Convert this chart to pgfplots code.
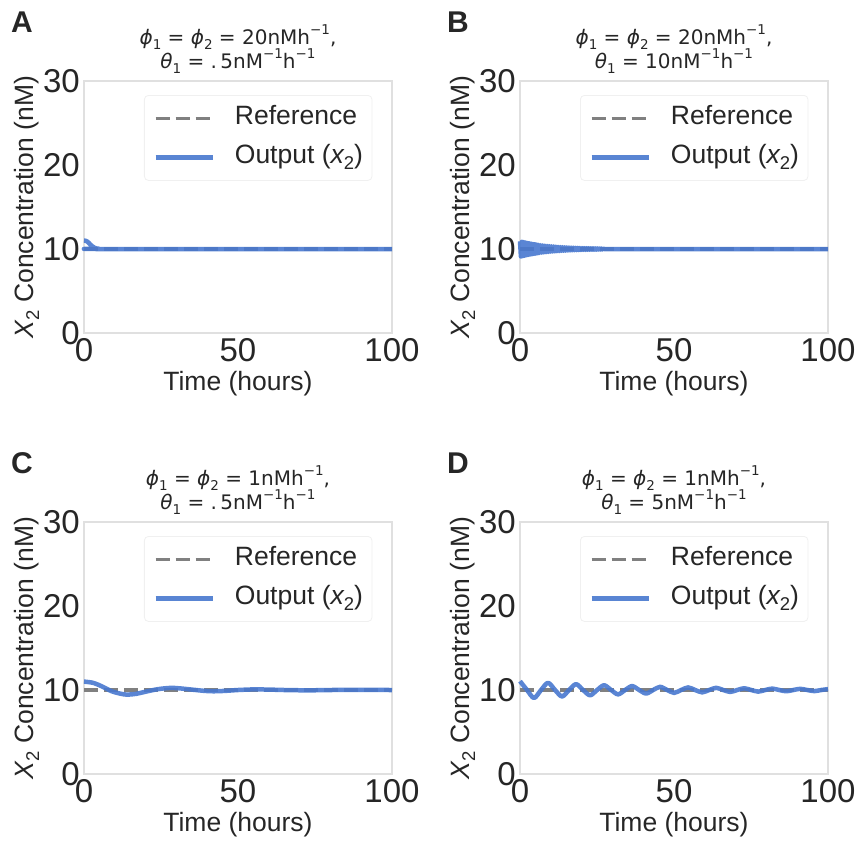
\documentclass[border=0pt]{standalone}
\usepackage{fontspec}
\setmainfont{Liberation Sans}
\newfontfamily\djv{DejaVu Sans}
\usepackage{pgfplots}
\pgfplotsset{compat=1.18}

\definecolor{txt}{HTML}{262626}
\definecolor{myblue}{HTML}{4878CF}
\definecolor{refgray}{HTML}{808080}

\newcommand{\tsub}[1]{\raisebox{-0.22em}{\fontsize{13.5bp}{13.5bp}\selectfont #1}}
\newcommand{\tsup}[1]{\raisebox{0.5em}{\fontsize{13.5bp}{13.5bp}\selectfont #1}}
\newcommand{\lsub}[1]{\raisebox{-0.22em}{\fontsize{18.5bp}{18.5bp}\selectfont #1}}
\newcommand{\phiit}{{\itshape ϕ}}
\newcommand{\thit}{{\itshape θ}}

\tikzset{letter/.style={anchor=base west, font=\bfseries\fontsize{30bp}{30bp}\selectfont, text=txt, inner sep=0pt}}

\pgfplotsset{
  panel/.style={
    width=308bp, height=252bp, scale only axis,
    anchor=south west, clip=false,
    xmin=0, xmax=100, ymin=0, ymax=30,
    xtick={0,50,100}, ytick={0,10,20,30},
    axis line style={draw=black!12, line width=1.2bp},
    major tick length=0pt,
    tick label style={font=\fontsize{33bp}{33bp}\selectfont, text=txt},
    /pgf/number format/assume math mode=true,
    xticklabel style={anchor=north, inner sep=0pt, yshift=-5bp},
    yticklabel style={anchor=east, inner sep=0pt, xshift=-4bp},
    xlabel={Time (hours)},
    ylabel={{\itshape X}\lsub{2} Concentration (nM)},
    label style={font=\fontsize{26.5bp}{26.5bp}\selectfont, text=txt},
    xlabel style={at={(axis description cs:0.5,-0.230)}, anchor=base},
    ylabel style={at={(axis description cs:-0.165,0.5)}, anchor=base},
    legend image code/.code={\draw[##1] (0bp,0bp) -- (57bp,0bp);},
    legend style={at={(axis description cs:0.1948,0.9444)}, anchor=north west,
      draw=black!6, fill=white, rounded corners=4bp, line width=0.8bp,
      font=\fontsize{26.5bp}{26.5bp}\selectfont, text=txt,
      inner xsep=9bp, inner ysep=10.5bp, row sep=14bp, column sep=20bp,
      nodes={inner sep=0pt, text height=19bp, text depth=6bp}},
    legend cell align=left,
  },
  refline/.style={refgray, line width=3.5bp, dash pattern=on 14bp off 6bp},
  outline/.style={myblue, line width=4.5bp, opacity=0.9, line join=round},
}

\newcommand{\paneltitle}[2]{%
  \node[anchor=base, font=\djv\fontsize{20bp}{20bp}\selectfont, text=txt]
    at (axis description cs:0.5,1.143) {#1};
  \node[anchor=base, font=\djv\fontsize{20bp}{20bp}\selectfont, text=txt]
    at (axis description cs:0.5,1.048) {#2};}

\begin{document}
\begin{tikzpicture}
\path[use as bounding box] (0bp,0bp) rectangle (860bp,-845bp);

\node[letter] at (11bp,-32bp) {A};
\node[letter] at (447bp,-32bp) {B};
\node[letter] at (11bp,-473bp) {C};
\node[letter] at (447bp,-473bp) {D};

% A
\begin{axis}[panel, at={(84bp,-333bp)}]
\addplot[refline] coordinates {(0,10) (100,10)};
\addlegendentry{Reference}
\addplot[outline, smooth] coordinates {
(0,11.0) (0.5,10.98) (1,10.9) (1.5,10.75) (2,10.55) (2.5,10.38) (3,10.24)
(3.5,10.14) (4,10.07) (5,10.02) (6,10.0) (100,10.0)};
\addlegendentry{Output ({\itshape x}\lsub{2})}
\paneltitle{\phiit\tsub{1} = \phiit\tsub{2} = 20nMh\tsup{−1},}{\thit\tsub{1} = .\,5nM\tsup{−1}h\tsup{−1}}
\end{axis}

% B
\begin{axis}[panel, at={(520bp,-333bp)}]
\addplot[refline] coordinates {(0,10) (100,10)};
\addlegendentry{Reference}
\addplot[outline] coordinates {
(0,10.92) (0.3,9.11) (0.6,10.86) (0.9,9.16) (1.2,10.81) (1.5,9.21) (1.8,10.76) (2.1,9.26)
(2.4,10.71) (2.7,9.31) (3.0,10.67) (3.3,9.35) (3.6,10.63) (3.9,9.39) (4.2,10.59) (4.5,9.43)
(4.8,10.56) (5.1,9.46) (5.4,10.52) (5.7,9.50) (6.0,10.49) (6.3,9.53) (6.6,10.46) (6.9,9.56)
(7.2,10.43) (7.5,9.58) (7.8,10.41) (8.1,9.61) (8.4,10.38) (8.7,9.63) (9.0,10.36) (9.3,9.65)
(9.6,10.34) (9.9,9.68) (10.2,10.32) (10.5,9.70) (10.8,10.30) (11.1,9.71) (11.4,10.28) (11.7,9.73)
(12.0,10.26) (12.3,9.75) (12.6,10.24) (12.9,9.76) (13.2,10.23) (13.5,9.78) (13.8,10.22) (14.1,9.79)
(14.4,10.20) (14.7,9.80) (15.0,10.19) (15.3,9.82) (15.6,10.18) (15.9,9.83) (16.2,10.17) (16.5,9.84)
(16.8,10.16) (17.1,9.85) (17.4,10.15) (17.7,9.86) (18.0,10.14) (18.3,9.87) (18.6,10.13) (18.9,9.87)
(19.2,10.12) (19.5,9.88) (19.8,10.115) (20.1,9.89) (20.4,10.11) (20.7,9.90) (21.0,10.10) (21.3,9.90)
(21.6,10.095) (21.9,9.91) (22.2,10.09) (22.5,9.91) (22.8,10.084) (23.1,9.92) (23.4,10.08) (23.7,9.92)
(24.0,10.074) (24.3,9.93) (24.6,10.07) (24.9,9.93) (25.2,10.065) (25.5,9.94) (25.8,10.06) (26.1,9.94)
(26.4,10.057) (26.7,9.945) (27.0,10.054) (27.3,10.0) (100,10.0)};
\addlegendentry{Output ({\itshape x}\lsub{2})}
\paneltitle{\phiit\tsub{1} = \phiit\tsub{2} = 20nMh\tsup{−1},}{\thit\tsub{1} = 10nM\tsup{−1}h\tsup{−1}}
\end{axis}

% C
\begin{axis}[panel, at={(84bp,-774bp)}]
\addplot[refline] coordinates {(0,10) (100,10)};
\addlegendentry{Reference}
\addplot[outline, smooth] coordinates {
(0,11.0) (3,10.85) (6,10.4) (9,9.85) (12,9.55) (14,9.45) (17,9.55) (20,9.8)
(24,10.1) (28,10.25) (31,10.2) (35,10.05) (39,9.9) (42,9.85) (46,9.9) (50,10.0)
(55,10.07) (60,10.05) (65,10.0) (70,9.97) (75,9.97) (80,10.0) (90,10.01) (100,10.0)};
\addlegendentry{Output ({\itshape x}\lsub{2})}
\paneltitle{\phiit\tsub{1} = \phiit\tsub{2} = 1nMh\tsup{−1},}{\thit\tsub{1} = .\,5nM\tsup{−1}h\tsup{−1}}
\end{axis}

% D
\begin{axis}[panel, at={(520bp,-774bp)}]
\addplot[refline] coordinates {(0,10) (100,10)};
\addlegendentry{Reference}
\addplot[outline, smooth] coordinates {
(0,11.05) (2.28,10) (4.55,9.05) (6.83,10) (9.10,10.86) (11.38,10) (13.65,9.23) (15.93,10)
(18.20,10.70) (20.48,10) (22.75,9.37) (25.03,10) (27.30,10.57) (29.58,10) (31.85,9.48) (34.13,10)
(36.40,10.47) (38.68,10) (40.95,9.58) (43.23,10) (45.50,10.38) (47.78,10) (50.05,9.66) (52.33,10)
(54.60,10.31) (56.88,10) (59.15,9.72) (61.43,10) (63.70,10.26) (65.98,10) (68.25,9.77) (70.53,10)
(72.80,10.21) (75.08,10) (77.35,9.81) (79.63,10) (81.90,10.17) (84.18,10) (86.45,9.85) (88.73,10)
(91.00,10.14) (93.28,10) (95.55,9.87) (97.83,10) (100,10.11)};
\addlegendentry{Output ({\itshape x}\lsub{2})}
\paneltitle{\phiit\tsub{1} = \phiit\tsub{2} = 1nMh\tsup{−1},}{\thit\tsub{1} = 5nM\tsup{−1}h\tsup{−1}}
\end{axis}
\end{tikzpicture}
\end{document}
